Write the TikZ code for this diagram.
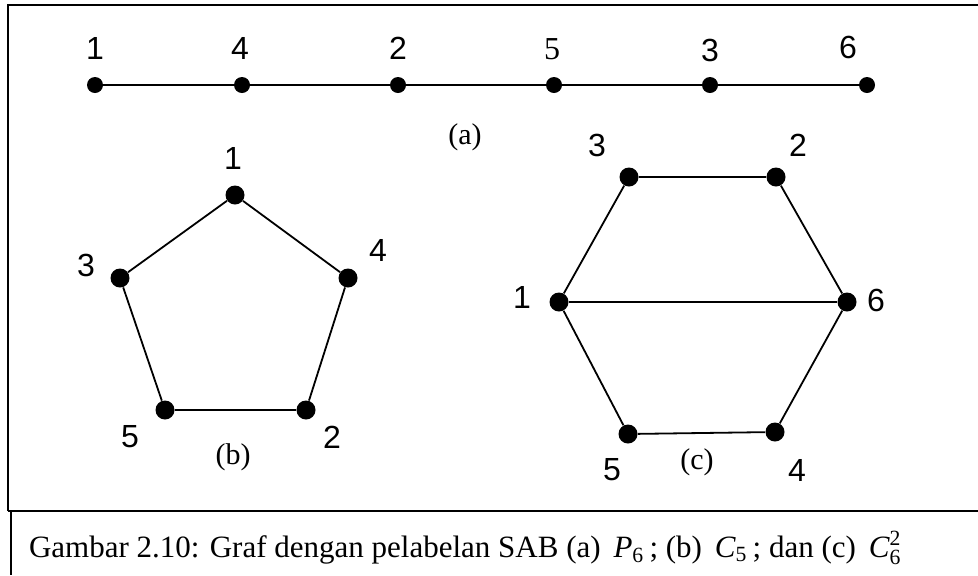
\documentclass[tikz,border=0pt]{standalone}
\usepackage{amsmath}
\usepackage{fontspec}
\setmainfont{Liberation Serif}
\newfontfamily\arial{Liberation Sans}

\begin{document}
\begin{tikzpicture}[x=0.5pt, y=-0.5pt,
    vtx/.style={circle, fill=black, inner sep=0pt, minimum size=9.5pt},
    pvtx/.style={vtx, minimum size=8pt},
    num/.style={font=\arial\fontsize{16}{18}\selectfont},
    tag/.style={font=\fontsize{15}{17}\selectfont},
    edge/.style={line width=0.9pt}]
    \useasboundingbox (0,0) rectangle (978,575);

    % Frame
    \draw[line width=1.4pt] (8,511) -- (8,5) -- (978,5);
    \draw[line width=1.2pt] (8,511) -- (978,511);
    \draw[line width=1pt] (11,511) -- (11,575);

    % (a) Path P6
    \node[pvtx] (P1) at (95,85) {};
    \node[pvtx] (P4) at (242,85) {};
    \node[pvtx] (P2) at (398,85) {};
    \node[pvtx] (P5) at (554,85) {};
    \node[pvtx] (P3) at (710,85) {};
    \node[pvtx] (P6) at (867,85) {};
    \draw[line width=1.2pt] (P1) -- (P4) -- (P2) -- (P5) -- (P3) -- (P6);
    \node[num] (P1l) at (95,48) {1};
    \node[num] (P4l) at (240,48) {4};
    \node[num] (P2l) at (398,48) {2};
    \node[tag, font=\fontsize{16}{18}\selectfont] (P5l) at (552,49) {5};
    \node[num] (P3l) at (710,50) {3};
    \node[num] (P6l) at (848,47) {6};
    \node[tag] (Pt) at (465,137) {(a)};

    % (b) Cycle C5
    \node[vtx] (C1) at (235,195) {};
    \node[vtx] (C4) at (348,278) {};
    \node[vtx] (C2) at (306,410) {};
    \node[vtx] (C5) at (165,410) {};
    \node[vtx] (C3) at (120,278) {};
    \draw[edge] (C1) -- (C4) -- (C2) -- (C5) -- (C3) -- (C1);
    \node[num] (C1l) at (233,158) {1};
    \node[num] (C4l) at (378,250) {4};
    \node[num] (C2l) at (332,437) {2};
    \node[num] (C5l) at (130,437) {5};
    \node[num] (C3l) at (86,265) {3};
    \node[tag] (Ct) at (233,457) {(b)};

    % (c) Square of C6
    \node[vtx] (H3) at (629,177) {};
    \node[vtx] (H2) at (776,177) {};
    \node[vtx] (H6) at (847,302) {};
    \node[vtx] (H4) at (775,432) {};
    \node[vtx] (H5) at (628,434) {};
    \node[vtx] (H1) at (559,302) {};
    \draw[edge] (H3) -- (H2) -- (H6) -- (H4) -- (H5) -- (H1) -- (H3);
    \draw[edge] (H1) -- (H6);
    \node[num] (H3l) at (597,145) {3};
    \node[num] (H2l) at (798,145) {2};
    \node[num] (H6l) at (876,300) {6};
    \node[num] (H4l) at (797,470) {4};
    \node[num] (H5l) at (612,470) {5};
    \node[num] (H1l) at (522,297) {1};
    \node[tag] (Ht) at (697,462) {(c)};

    % Caption
    \node[tag, anchor=west, font=\fontsize{15.5}{18}\selectfont] (cap) at (22,548)
        {Gambar 2.10: Graf dengan pelabelan SAB (a) \,$\textit{P}_{\textrm{6}}$\,; (b) \,$\textit{C}_{\textrm{5}}$\,; dan (c) \,$\textit{C}_{\textrm{6}}^{\textrm{2}}$};
\end{tikzpicture}
\end{document}
